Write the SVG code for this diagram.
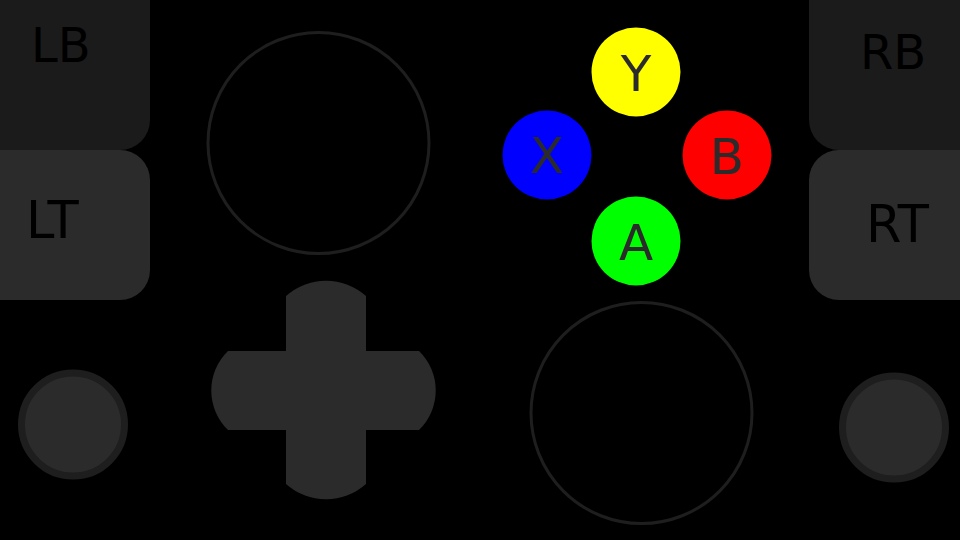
<svg xmlns="http://www.w3.org/2000/svg" width="960" height="540" viewBox="0 0 960 540">
<style>
.bumper{fill:#1b1b1b}
.trigger{fill:#2b2b2b}
.shoulder-label{font-family:"DejaVu Sans",sans-serif;font-size:48px;fill:#000}
.trig-label{font-size:51px}
.btn-label{font-family:"DejaVu Sans",sans-serif;font-size:50px;fill:#2b2b2b;text-anchor:middle}
.stick{fill:none;stroke:#1e1e1e;stroke-width:3}
.small{fill:#2b2b2b;stroke:#1e1e1e;stroke-width:7}
.dpad{fill:#2b2b2b}
</style>
<rect width="960" height="540" fill="#000"/>
<g id="LB"><rect class="bumper" x="-40" y="-40" width="190" height="190" rx="30"/><text class="shoulder-label" x="31" y="62">LB</text></g>
<g id="LT"><rect class="trigger" x="-40" y="150" width="190" height="150" rx="30"/><text class="shoulder-label trig-label" x="26" y="238">LT</text></g>
<g id="RB"><rect class="bumper" x="809" y="-40" width="191" height="190" rx="30"/><text class="shoulder-label" x="860" y="69">RB</text></g>
<g id="RT"><rect class="trigger" x="809" y="150" width="191" height="150" rx="30"/><text class="shoulder-label trig-label" x="866" y="242">RT</text></g>
<g id="left-stick"><circle class="stick" cx="318.5" cy="143" r="110.5"/></g>
<g id="right-stick"><circle class="stick" cx="641.5" cy="413" r="110.5"/></g>
<g id="button-Y"><circle cx="636" cy="72" r="44.5" fill="#ffff00"/><text class="btn-label" x="636" y="91">Y</text></g>
<g id="button-X"><circle cx="547" cy="155" r="44.5" fill="#0000ff"/><text class="btn-label" x="547" y="173">X</text></g>
<g id="button-B"><circle cx="727" cy="155" r="44.5" fill="#ff0000"/><text class="btn-label" x="727" y="174">B</text></g>
<g id="button-A"><circle cx="636" cy="241" r="44.5" fill="#00ff00"/><text class="btn-label" x="636" y="260">A</text></g>
<g id="dpad">
<path class="dpad" d="M286,296 A60,60 0 0 1 366,296 L366,484 A60,60 0 0 1 286,484 Z"/>
<path class="dpad" d="M228,351 L419,351 A55,55 0 0 1 419,430 L228,430 A55,55 0 0 1 228,351 Z"/>
</g>
<g id="left-small"><circle class="small" cx="73" cy="424.5" r="51.5"/></g>
<g id="right-small"><circle class="small" cx="894" cy="427.5" r="51.5"/></g>
<g id="connectors"></g>
</svg>
